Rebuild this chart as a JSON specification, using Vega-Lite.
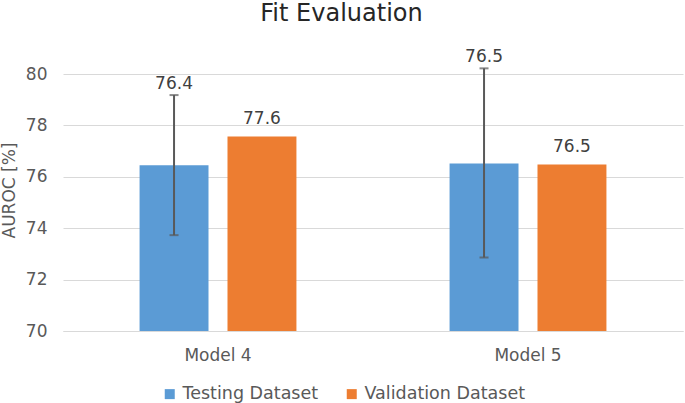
{
  "$schema": "https://vega.github.io/schema/vega-lite/v6.json",
  "width": 620,
  "height": 257,
  "autosize": {"type": "none"},
  "padding": {"left": 63, "top": 74, "right": 2, "bottom": 72},
  "background": "white",
  "title": {"text": "Fit Evaluation", "fontSize": 24, "font": "DejaVu Sans", "fontWeight": "normal", "color": "#262626", "anchor": "middle", "frame": "bounds", "offset": 3, "baseline": "alphabetic"},
  "config": {"font": "DejaVu Sans", "view": {"stroke": null}},
  "data": {"values": [
    {"model": "Model 4", "dataset": "Testing Dataset", "value": 76.45, "lo": 73.73, "hi": 79.18, "label": "76.4"},
    {"model": "Model 4", "dataset": "Validation Dataset", "value": 77.57, "label": "77.6"},
    {"model": "Model 5", "dataset": "Testing Dataset", "value": 76.52, "lo": 72.86, "hi": 80.22, "label": "76.5"},
    {"model": "Model 5", "dataset": "Validation Dataset", "value": 76.48, "label": "76.5"}
  ]},
  "encoding": {
    "x": {"field": "model", "type": "nominal", "scale": {"paddingInner": 0.494, "paddingOuter": 0.247},
      "axis": {"title": null, "labelAngle": 0, "labelFontSize": 17, "labelColor": "#595959", "ticks": false, "tickSize": 0, "labelPadding": 16, "domainColor": "#d9d9d9", "domainWidth": 1, "grid": false}},
    "xOffset": {"field": "dataset", "type": "nominal", "scale": {"paddingInner": 0.216, "paddingOuter": 0}}
  },
  "layer": [
    {
      "mark": {"type": "bar"},
      "encoding": {
        "y": {"field": "value", "type": "quantitative", "title": "AUROC [%]",
          "scale": {"domain": [70, 80], "zero": false, "nice": false},
          "axis": {"values": [70, 72, 74, 76, 78, 80], "labelFontSize": 17, "labelColor": "#595959", "ticks": false, "tickSize": 0, "labelPadding": 16, "domain": false, "gridColor": "#d9d9d9", "gridWidth": 1, "titleFontSize": 17, "titleFontWeight": "normal", "titleColor": "#595959", "titleX": -54, "titleY": 116, "titleAngle": -90, "titleAlign": "center", "titleBaseline": "middle"}},
        "y2": {"datum": 70},
        "color": {"field": "dataset", "type": "nominal",
          "scale": {"domain": ["Testing Dataset", "Validation Dataset"], "range": ["#5B9BD5", "#ED7D31"]},
          "legend": {"orient": "none", "legendX": 98, "legendY": 311, "direction": "horizontal", "title": null, "symbolType": "square", "symbolSize": 100, "symbolStrokeWidth": 0, "labelFontSize": 17.5, "labelLimit": 400, "labelColor": "#595959", "columnPadding": 24, "labelOffset": 4, "padding": 0}}
      }
    },
    {
      "transform": [{"filter": "isValid(datum.lo)"}],
      "mark": {"type": "rule", "color": "#595959", "strokeWidth": 2},
      "encoding": {"y": {"field": "lo", "type": "quantitative", "title": "AUROC [%]"}, "y2": {"field": "hi"}}
    },
    {
      "transform": [{"filter": "isValid(datum.lo)"}],
      "mark": {"type": "tick", "color": "#595959", "orient": "horizontal", "size": 9, "thickness": 2},
      "encoding": {"y": {"field": "lo", "type": "quantitative", "title": "AUROC [%]"}}
    },
    {
      "transform": [{"filter": "isValid(datum.lo)"}],
      "mark": {"type": "tick", "color": "#595959", "orient": "horizontal", "size": 9, "thickness": 2},
      "encoding": {"y": {"field": "hi", "type": "quantitative", "title": "AUROC [%]"}}
    },
    {
      "transform": [{"filter": "isValid(datum.lo)"}],
      "mark": {"type": "text", "fontSize": 17, "color": "#404040", "baseline": "alphabetic", "dy": -6},
      "encoding": {"y": {"field": "hi", "type": "quantitative", "title": "AUROC [%]"}, "text": {"field": "label"}}
    },
    {
      "transform": [{"filter": "!isValid(datum.lo)"}],
      "mark": {"type": "text", "fontSize": 17, "color": "#404040", "baseline": "alphabetic", "dy": -12},
      "encoding": {"y": {"field": "value", "type": "quantitative", "title": "AUROC [%]"}, "text": {"field": "label"}}
    }
  ]
}
